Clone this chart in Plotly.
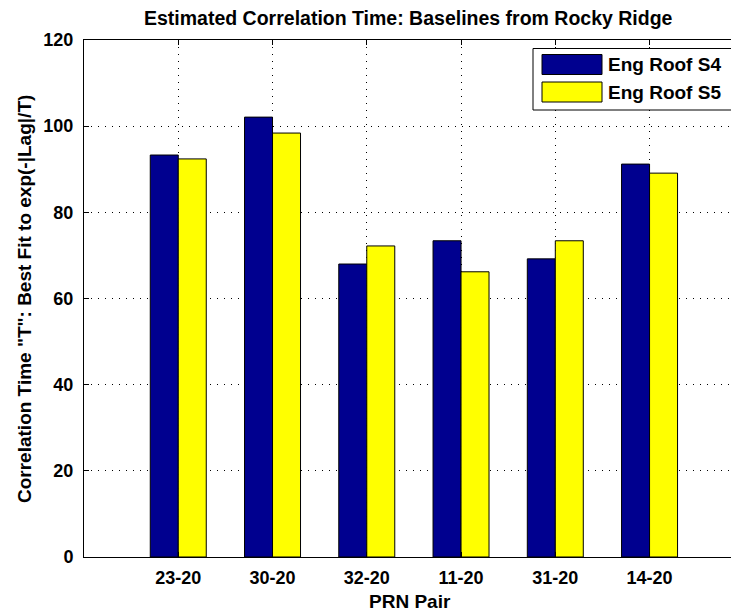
import plotly.graph_objects as go

# PRN pairs and estimated correlation times for the two roof stations
pairs = ["23-20", "30-20", "32-20", "11-20", "31-20", "14-20"]
eng_roof_s4 = [93.3, 102.1, 68.0, 73.4, 69.2, 91.2]
eng_roof_s5 = [92.4, 98.4, 72.2, 66.2, 73.4, 89.1]
y_ticks = [0, 20, 40, 60, 80, 100, 120]

FONT = "Liberation Sans, Arial, Helvetica, sans-serif"
BLUE = "#00008F"
YELLOW = "#FFFF00"

x_pos = list(range(1, len(pairs) + 1))

fig = go.Figure()
fig.add_trace(go.Bar(x=x_pos, y=eng_roof_s4, name="Eng Roof S4",
                     marker=dict(color=BLUE, line=dict(color="#000000", width=1))))
fig.add_trace(go.Bar(x=x_pos, y=eng_roof_s5, name="Eng Roof S5",
                     marker=dict(color=YELLOW, line=dict(color="#000000", width=1))))

L, T, B = 84, 40, 57
W, H = 731, 614
pw, ph = W - L, H - T - B


def px_x(p):
    return (p - L) / pw


def px_y(p):
    return (H - B - p) / ph


fig.update_layout(
    width=W, height=H,
    margin=dict(l=L, r=0, t=T, b=B, pad=0),
    paper_bgcolor="white", plot_bgcolor="white",
    barmode="group", bargap=0.406, bargroupgap=0,
    showlegend=False,
    font=dict(family=FONT, size=18, color="black"),
)

fig.update_xaxes(
    range=[0, 6.864], tickvals=x_pos, ticktext=pairs,
    ticks="inside", ticklen=5, tickcolor="black",
    showline=True, linecolor="black", linewidth=1, mirror="ticks",
    showgrid=True, gridcolor="black", gridwidth=1, griddash="1px,6px",
    tickfont=dict(family=FONT, size=18, color="black", weight="bold"),
    ticklabelstandoff=4,
    zeroline=False,
)
fig.update_yaxes(
    range=[0, 120], tickvals=y_ticks,
    ticks="inside", ticklen=5, tickcolor="black",
    showline=True, linecolor="black", linewidth=1, mirror=False,
    showgrid=True, gridcolor="black", gridwidth=1, griddash="1px,6px",
    tickfont=dict(family=FONT, size=18, color="black", weight="bold"),
    ticklabelstandoff=6,
    zeroline=False,
)

# Title and axis labels
fig.add_annotation(text="Estimated Correlation Time: Baselines from Rocky Ridge",
                   xref="paper", yref="paper", x=px_x(408), y=px_y(18),
                   xanchor="center", yanchor="middle", showarrow=False,
                   font=dict(family=FONT, size=19.5, color="black", weight="bold"))
fig.add_annotation(text="PRN Pair",
                   xref="paper", yref="paper", x=px_x(410), y=px_y(601),
                   xanchor="center", yanchor="middle", showarrow=False,
                   font=dict(family=FONT, size=19, color="black", weight="bold"))
fig.add_annotation(text="Correlation Time \"T\": Best Fit to exp(-|Lag|/T)",
                   xref="paper", yref="paper", x=px_x(24), y=px_y(299),
                   xanchor="center", yanchor="middle", textangle=-90, showarrow=False,
                   font=dict(family=FONT, size=19, color="black", weight="bold"))

# Legend box with wide swatches
fig.add_shape(type="rect", xref="paper", yref="paper",
              x0=px_x(533), x1=px_x(745), y0=px_y(110), y1=px_y(48.5),
              line=dict(color="black", width=1), fillcolor="white", layer="above")
for name, col, yc in [("Eng Roof S4", BLUE, 64.5), ("Eng Roof S5", YELLOW, 92)]:
    fig.add_shape(type="rect", xref="paper", yref="paper",
                  x0=px_x(542), x1=px_x(602), y0=px_y(yc + 10), y1=px_y(yc - 10),
                  line=dict(color="black", width=1), fillcolor=col, layer="above")
    fig.add_annotation(text=name, xref="paper", yref="paper",
                       x=px_x(606), y=px_y(yc), xanchor="left", yanchor="middle",
                       showarrow=False,
                       font=dict(family=FONT, size=19, color="black", weight="bold"))

fig.write_html("out.html")
